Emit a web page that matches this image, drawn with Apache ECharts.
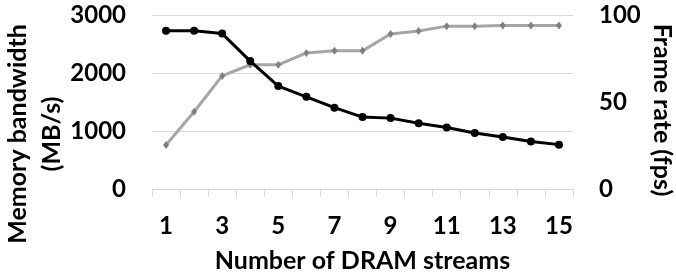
<!DOCTYPE html>
<html>
<head>
<meta charset="utf-8">
<script src="https://cdn.jsdelivr.net/npm/echarts@6/dist/echarts.min.js"></script>
<style>
html,body{margin:0;padding:0;background:#fff;}
#chart{width:676px;height:276px;}
</style>
</head>
<body>
<div id="chart"></div>
<script>
var categories = ['1','2','3','4','5','6','7','8','9','10','11','12','13','14','15'];
var memoryBandwidth = [2730, 2730, 2680, 2205, 1775, 1590, 1402, 1240, 1222, 1132, 1062, 966, 897, 818, 765];
var frameRate = [25.3, 44.4, 65, 71.4, 71.4, 78.2, 79.4, 79.4, 89.1, 90.8, 93.6, 93.6, 93.9, 93.9, 93.9];
var leftTicks = [0, 1000, 2000, 3000];
var rightTicks = [0, 50, 100];
var xTitle = 'Number of DRAM streams';
var leftTitle = 'Memory bandwidth\n(MB/s)';
var rightTitle = 'Frame rate (fps)';

var FONT = 'Lato';
var chart = echarts.init(document.getElementById('chart'), null, {renderer: 'canvas'});
chart.setOption({
  animation: false,
  backgroundColor: '#ffffff',
  grid: {left: 152, right: 103, top: 15, bottom: 87, containLabel: false, outerBoundsMode: 'none'},
  graphic: [{
    type: 'text',
    x: 35, y: 134,
    rotation: Math.PI / 2,
    style: {text: leftTitle, fontFamily: FONT, fontSize: 25, fontWeight: 'bold', fill: '#000', align: 'center', verticalAlign: 'middle', lineHeight: 34}
  }, {
    type: 'text',
    x: 662, y: 110,
    rotation: -Math.PI / 2,
    style: {text: rightTitle, fontFamily: FONT, fontSize: 25, fontWeight: 'bold', fill: '#000', align: 'center', verticalAlign: 'middle'}
  }],
  xAxis: {
    type: 'category',
    data: categories,
    boundaryGap: true,
    name: xTitle,
    nameLocation: 'middle',
    nameGap: 59,
    nameTextStyle: {fontFamily: FONT, fontSize: 25, color: '#000', fontWeight: 'bold'},
    axisLine: {show: true, lineStyle: {color: '#d9d9d9', width: 1}},
    axisTick: {show: true, length: 8, alignWithLabel: false, interval: 0, lineStyle: {color: '#d9d9d9'}},
    axisLabel: {interval: 1, margin: 25, fontFamily: FONT, fontSize: 24, fontWeight: 'bold', color: '#000'},
    splitLine: {show: false}
  },
  yAxis: [{
    type: 'value',
    min: leftTicks[0],
    max: leftTicks[leftTicks.length - 1],
    interval: 1000,
    axisLine: {show: false},
    axisTick: {show: false},
    axisLabel: {margin: 26, fontFamily: FONT, fontSize: 24, fontWeight: 'bold', color: '#000', formatter: function (v) { return String(v); }},
    splitLine: {show: true, lineStyle: {color: '#d9d9d9', width: 1}}
  }, {
    type: 'value',
    min: rightTicks[0],
    max: rightTicks[rightTicks.length - 1],
    interval: 50,
    position: 'right',
    axisLine: {show: false},
    axisTick: {show: false},
    axisLabel: {margin: 26, fontFamily: FONT, fontSize: 24, fontWeight: 'bold', color: '#000', formatter: function (v) { return String(v); }},
    splitLine: {show: false}
  }],
  series: [{
    name: 'Frame rate',
    type: 'line',
    yAxisIndex: 1,
    data: frameRate,
    symbol: 'diamond',
    symbolSize: [6, 8],
    showSymbol: true,
    lineStyle: {color: '#a6a6a6', width: 3},
    itemStyle: {color: '#808080'},
    z: 2
  }, {
    name: 'Memory bandwidth',
    type: 'line',
    yAxisIndex: 0,
    data: memoryBandwidth,
    symbol: 'circle',
    symbolSize: 8,
    showSymbol: true,
    lineStyle: {color: '#000000', width: 3},
    itemStyle: {color: '#000000'},
    z: 3
  }]
});
</script>
</body>
</html>
